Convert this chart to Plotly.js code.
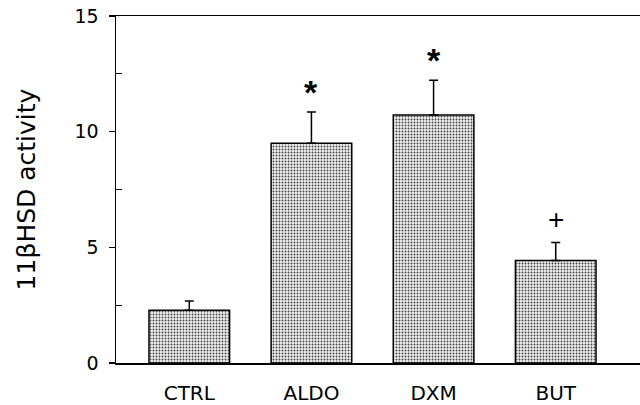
<!DOCTYPE html>
<html>
<head>
<meta charset="utf-8">
<script src="https://cdn.plot.ly/plotly-3.0.1.min.js"></script>
<style>html,body{margin:0;padding:0;background:#fff;}#chart{width:640px;height:405px;}</style>
</head>
<body>
<div id="chart"></div>
<script>
const categories = ['CTRL', 'ALDO', 'DXM', 'BUT'];
const activity = [2.28, 9.5, 10.72, 4.43];
const errors = [0.4, 1.35, 1.5, 0.78];
const marks = ['', '*', '*', '+'];

const trace = {
  type: 'bar',
  x: [0, 1, 2, 3],
  y: activity,
  width: 0.66,
  marker: {
    color: '#ffffff',
    line: {color: '#000', width: 1.5},
    pattern: {shape: '.', size: 3, solidity: 0.3, fgcolor: '#444', bgcolor: '#eee'}
  },
  error_y: {type: 'data', array: errors, symmetric: false, arrayminus: errors.map(() => 0), visible: true, color: '#000', thickness: 1.5, width: 4.5},
  hoverinfo: 'skip'
};

const annotations = marks.map((m, i) => ({
  x: i, y: activity[i] + errors[i], xref: 'x', yref: 'y',
  text: m === '*' ? '<b>*</b>' : m, showarrow: false, yanchor: 'middle', yshift: m === '*' ? 20 : 23,
  font: {family: 'Liberation Sans, Arial, sans-serif', size: m === '*' ? 34 : 28, color: '#000'}
})).filter(a => a.text);

const layout = {
  width: 640, height: 405,
  margin: {l: 116, r: 0, t: 16, b: 42},
  paper_bgcolor: '#fff', plot_bgcolor: '#fff',
  showlegend: false,
  font: {family: 'DejaVu Sans, sans-serif', color: '#000'},
  xaxis: {
    range: [-0.6, 3.69], tickmode: 'array', tickvals: [0, 1, 2, 3], ticktext: categories,
    showline: true, mirror: true, linecolor: '#000', linewidth: 1.5,
    showgrid: false, zeroline: false, ticks: '', ticklabelstandoff: 11,
    tickfont: {size: 20, color: '#000'}, fixedrange: true
  },
  yaxis: {
    range: [0, 15], tickvals: [0, 5, 10, 15], ticktext: ['0', '5', '10', '15'],
    showline: true, mirror: false, linecolor: '#000', linewidth: 1.5,
    showgrid: false, zeroline: false, ticks: 'outside', ticklen: 6, tickwidth: 1.2, tickcolor: '#000',
    ticklabelstandoff: 6,
    minor: {tickvals: [2.5, 7.5, 12.5], ticks: 'inside', ticklen: 6, tickwidth: 1, tickcolor: '#000'},
    tickfont: {size: 19, color: '#000'},
    title: {text: '11βHSD activity', font: {size: 25, color: '#000'}, standoff: 32},
    fixedrange: true
  },
  annotations: annotations
};

Plotly.newPlot('chart', [trace], layout, {displayModeBar: false, staticPlot: true});
</script>
</body>
</html>
